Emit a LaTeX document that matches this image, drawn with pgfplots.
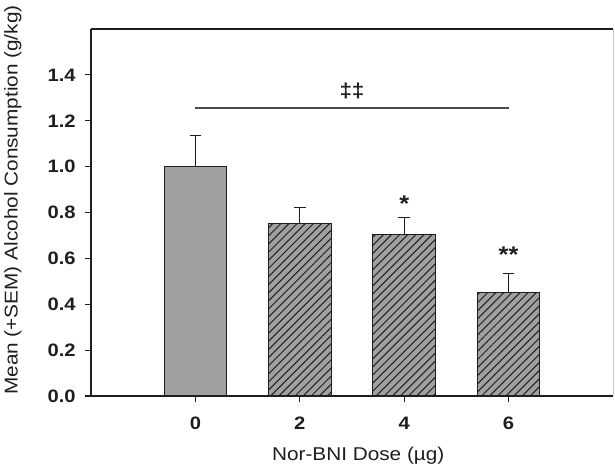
\documentclass[border=0pt]{standalone}
\usepackage{fontspec}
\setmainfont{Liberation Sans}[FakeStretch=1.12]
\usepackage{pgfplots}
\pgfplotsset{compat=1.18}
\usetikzlibrary{patterns.meta}

\definecolor{barfill}{RGB}{160,160,160}
\definecolor{ink}{RGB}{30,30,30}

\begin{document}
\begin{tikzpicture}
% page = 615x464 px at 0.75pt/px, axis box corner at (91,396) px
\useasboundingbox (-68.25pt,-51pt) rectangle (393pt,297pt);
\begin{axis}[
  at={(0,0)}, anchor=south west,
  scale only axis, width=391.5pt, height=275.25pt,
  xmin=-2, xmax=8, ymin=0, ymax=1.6,
  axis x line*=bottom, axis y line*=left,
  axis line style={ink, line width=1pt},
  xtick={0,2,4,6}, ytick={0,0.2,0.4,0.6,0.8,1.0,1.2,1.4},
  tick align=outside, major tick length=4.5pt,
  tick style={ink, line width=0.8pt},
  /pgf/number format/assume math mode=true,
  ticklabel style={font=\bfseries\fontsize{13.5}{13.5}\selectfont, text=ink},
  yticklabel style={/pgf/number format/.cd, fixed, fixed zerofill, precision=1},
  xticklabel shift=8pt, yticklabel shift=3.5pt,
  xlabel={Nor-BNI Dose (µg)},
  ylabel={Mean (+SEM) Alcohol Consumption (g/kg)},
  label style={font=\fontsize{13.9}{14}\selectfont, text=ink},
  xlabel style={at={(axis description cs:0.512,-0.1744)}, anchor=base},
  ylabel style={at={(axis description cs:-0.1408,0.534)}, anchor=base},
  ybar, bar width=1.2, bar shift=0pt,
  clip=false,
]
\addplot[draw=ink, line width=0.8pt, fill=barfill,
  error bars/.cd, y dir=plus, y explicit,
  error mark=|, error bar style={ink, line width=0.8pt},
  error mark options={ink, line width=0.8pt, mark size=4.4pt}]
  coordinates {(0,1.00) +- (0,0.135)};
\addplot[draw=ink, line width=0.8pt, fill=barfill,
  postaction={pattern={Lines[angle=45,distance=4.3pt,line width=0.75pt]}, pattern color=ink},
  error bars/.cd, y dir=plus, y explicit,
  error mark=|, error bar style={ink, line width=0.8pt},
  error mark options={ink, line width=0.8pt, mark size=4.4pt}]
  coordinates {(2,0.752) +- (0,0.070) (4,0.704) +- (0,0.075) (6,0.453) +- (0,0.081)};
% significance bar
\addplot[sharp plot, draw=black!70, line width=1.3pt, mark=none] coordinates {(0,1.255) (6,1.255)};
\node[font=\bfseries\fontsize{15}{15}\selectfont, text=ink] at (axis cs:3,1.33) {‡‡};
\node[font=\bfseries\fontsize{17}{17}\selectfont, text=ink] at (axis cs:4,0.84) {*};
\node[font=\bfseries\fontsize{17}{17}\selectfont, text=ink] at (axis cs:6,0.617) {**};
% top edge and faint right edge of the frame
\draw[ink, line width=1pt] (rel axis cs:0,1) -- (rel axis cs:1,1);
\draw[black!20, line width=0.6pt] (rel axis cs:1,0) -- (rel axis cs:1,1);
\end{axis}
\end{tikzpicture}
\end{document}
